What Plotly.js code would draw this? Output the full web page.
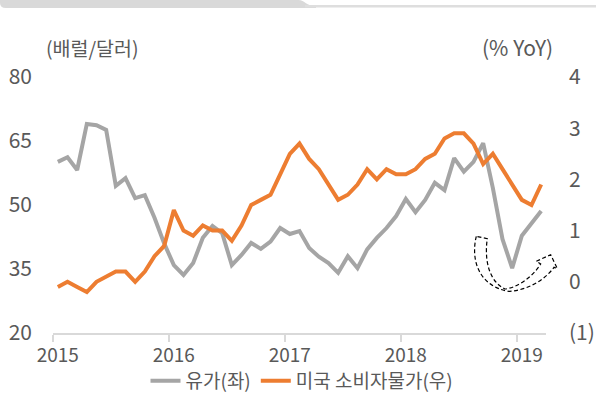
<!DOCTYPE html>
<html>
<head>
<meta charset="utf-8">
<script src="https://cdn.plot.ly/plotly-3.0.1.min.js"></script>
<style>html,body{margin:0;padding:0;background:#fff;}#chart{width:596px;height:400px;}</style>
</head>
<body>
<div id="chart"></div>
<script>
const months = ['2015-01','2015-02','2015-03','2015-04','2015-05','2015-06','2015-07','2015-08','2015-09','2015-10','2015-11','2015-12',
  '2016-01','2016-02','2016-03','2016-04','2016-05','2016-06','2016-07','2016-08','2016-09','2016-10','2016-11','2016-12',
  '2017-01','2017-02','2017-03','2017-04','2017-05','2017-06','2017-07','2017-08','2017-09','2017-10','2017-11','2017-12',
  '2018-01','2018-02','2018-03','2018-04','2018-05','2018-06','2018-07','2018-08','2018-09','2018-10','2018-11','2018-12',
  '2019-01','2019-02','2019-03'];
const oil = [60.1,61.2,58.2,69.0,68.7,67.6,54.5,56.3,51.6,52.3,47.0,41.0,
  35.9,33.6,36.4,42.3,45.1,43.4,35.9,38.3,41.1,39.7,41.4,44.6,
  43.2,43.9,39.9,37.9,36.4,34.1,38.0,35.2,39.6,42.3,44.6,47.4,
  51.4,48.3,51.2,55.2,53.5,61.0,57.8,60.1,64.5,54.0,42.0,35.2,
  42.8,45.8,48.6];
const cpi = [-0.1,0.0,-0.1,-0.2,0.0,0.1,0.2,0.2,0.0,0.2,0.5,0.7,
  1.4,1.0,0.9,1.1,1.0,1.0,0.8,1.1,1.5,1.6,1.7,2.1,
  2.5,2.7,2.4,2.2,1.9,1.6,1.7,1.9,2.2,2.0,2.2,2.1,
  2.1,2.2,2.4,2.5,2.8,2.9,2.9,2.7,2.3,2.5,2.2,1.9,
  1.6,1.5,1.9];
const yearLabels = ['2015','2016','2017','2018','2019'];
const leftTicks = [20,35,50,65,80];
const rightTickVals = [-1,0,1,2,3,4];
const rightTickText = ['(1)','0','1','2','3','4'];
const seriesNames = ['유가(좌)','미국 소비자물가(우)'];
const unitLeft = '(배럴/달러)';
const unitRight = '(% YoY)';

const xIdx = months.map((m,i)=>i);
const janIdx = months.map((m,i)=>m.endsWith('-01') ? i : null).filter(v=>v!==null);

const W = 596, H = 400, ML = 53, MR = 50, MT = 77, MB = 67;
const PW = W-ML-MR, PH = H-MT-MB;
function P(x,y){ return ((x-ML)/PW).toFixed(4)+','+((H-MB-y)/PH).toFixed(4); }

const arrowPath = 'M'+P(476.3,236.3)+
  ' C'+P(471,258)+' '+P(477,285)+' '+P(508,291.3)+
  ' C'+P(526,291)+' '+P(545,280)+' '+P(554,267.3)+
  ' L'+P(557.3,268.5)+' L'+P(550.7,254.7)+' L'+P(536.3,261.3)+' L'+P(540.7,264)+
  ' C'+P(532,278)+' '+P(516,288)+' '+P(505,289)+
  ' C'+P(490,282)+' '+P(484,262)+' '+P(487.3,238.7)+' Z';

const bandPath = 'M'+P(0,0)+' L'+P(298,0)+' C'+P(305,0)+' '+P(306,6)+' '+P(316,6.5)+
  ' L'+P(316,8)+' L'+P(6,8)+' Q'+P(0,8)+' '+P(0,3)+' Z';

const font = "'Noto Sans CJK KR', 'Noto Sans', sans-serif";
const txt = '#595959';

const traces = [
  {x:xIdx, y:oil, name:seriesNames[0], type:'scatter', mode:'lines', yaxis:'y',
   line:{color:'#A5A5A5', width:4}, customdata:months, hoverinfo:'skip'},
  {x:xIdx, y:cpi, name:seriesNames[1], type:'scatter', mode:'lines', yaxis:'y2',
   line:{color:'#ED7D31', width:4}, customdata:months, hoverinfo:'skip'}
];

const layout = {
  width:W, height:H,
  margin:{l:ML, r:MR, t:MT, b:MB, pad:0, autoexpand:false},
  paper_bgcolor:'#fff', plot_bgcolor:'#fff',
  font:{family:font, color:txt, size:20},
  showlegend:true,
  legend:{orientation:'h', xref:'container', yref:'container', x:302/W, xanchor:'center', y:0, yanchor:'bottom',
    font:{family:font, size:19, color:txt}, tracegroupgap:0, bgcolor:'rgba(0,0,0,0)', borderwidth:0},
  xaxis:{range:[-0.5, months.length-0.5], tickmode:'array', tickvals:janIdx, ticktext:yearLabels, automargin:false,
    ticks:'', showgrid:false, zeroline:false, showline:true, linecolor:'#D9D9D9', linewidth:1.5,
    tickfont:{family:font, size:19, color:txt}, ticklabelstandoff:5,
    minor:{tickmode:'array', tickvals:janIdx.map(v=>v-0.5), ticks:'outside', ticklen:7, tickwidth:1.3, tickcolor:'#D9D9D9', showgrid:false}},
  yaxis:{range:[20,80], tickmode:'array', tickvals:leftTicks, ticks:'', showgrid:false, zeroline:false, showline:false, automargin:false,
    tickfont:{family:font, size:21, color:txt}, ticklabelstandoff:20},
  yaxis2:{range:[-1,4], overlaying:'y', side:'right', tickmode:'array', tickvals:rightTickVals, ticktext:rightTickText, automargin:false,
    ticks:'', showgrid:false, zeroline:false, showline:false,
    tickfont:{family:font, size:21, color:txt}, ticklabelstandoff:22},
  annotations:[
    {xref:'paper', yref:'paper', x:(92.5-ML)/PW, y:(H-MB-47)/PH, text:unitLeft, showarrow:false,
     xanchor:'center', yanchor:'middle', font:{family:font, size:19.5, color:txt}},
    {xref:'paper', yref:'paper', x:(517-ML)/PW, y:(H-MB-47)/PH, text:unitRight, showarrow:false,
     xanchor:'center', yanchor:'middle', font:{family:font, size:21, color:txt}}
  ],
  shapes:[
    {type:'path', xref:'paper', yref:'paper', path:bandPath, fillcolor:'#D9D9D9', line:{width:0}},
    {type:'rect', xref:'paper', yref:'paper', x0:(305-ML)/PW, x1:(W-ML)/PW, y0:(H-MB-5)/PH, y1:(H-MB-7.5)/PH,
     fillcolor:'#DEDEDE', line:{width:0}},
    {type:'path', xref:'paper', yref:'paper', path:arrowPath, fillcolor:'rgba(0,0,0,0)',
     line:{color:'#000', width:1.2, dash:'4px,2.5px'}}
  ]
};

Plotly.newPlot('chart', traces, layout, {staticPlot:true, displayModeBar:false});
</script>
</body>
</html>
